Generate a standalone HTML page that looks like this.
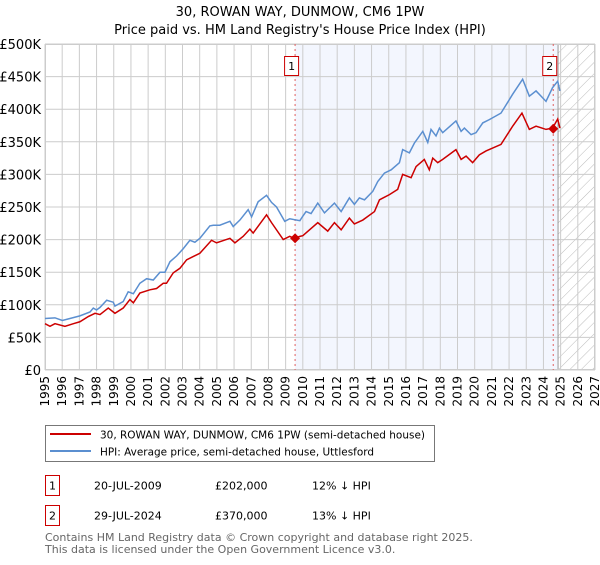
<!DOCTYPE html>
<html><head><meta charset="utf-8"><style>
body{margin:0;background:#fff;width:600px;height:560px;overflow:hidden}
svg text{font-family:"DejaVu Sans","Liberation Sans",sans-serif}
</style></head><body>
<svg id="chart" width="600" height="560" xmlns="http://www.w3.org/2000/svg">
<defs><pattern id="hatch" patternUnits="userSpaceOnUse" width="8" height="8" patternTransform="rotate(45)"><line x1="0" y1="0" x2="0" y2="8" stroke="#bbb" stroke-width="1"/></pattern></defs>
<text x="300" y="16" text-anchor="middle" font-size="13">30, ROWAN WAY, DUNMOW, CM6 1PW</text>
<text x="300" y="34" text-anchor="middle" font-size="13">Price paid vs. HM Land Registry's House Price Index (HPI)</text>
<g id="plot"></g>
<g>
<rect x="45.5" y="425.5" width="389" height="36" fill="#fff" stroke="#777"/>
<line x1="50" y1="434" x2="91" y2="434" stroke="#cc0000" stroke-width="2"/>
<text x="100" y="438.5" font-size="10.3" textLength="325" lengthAdjust="spacingAndGlyphs">30, ROWAN WAY, DUNMOW, CM6 1PW (semi-detached house)</text>
<line x1="50" y1="451" x2="91" y2="451" stroke="#5b8fd0" stroke-width="2"/>
<text x="100" y="455.5" font-size="10.3" textLength="274" lengthAdjust="spacingAndGlyphs">HPI: Average price, semi-detached house, Uttlesford</text>
</g>
<g>
<rect x="45.5" y="475.5" width="14" height="20" fill="none" stroke="#cc0000"/>
<text x="52.5" y="489.5" text-anchor="middle" font-size="11">1</text>
<text x="94" y="489.5" font-size="11">20-JUL-2009</text>
<text x="215" y="489.5" font-size="11">£202,000</text>
<text x="312" y="489.5" font-size="11">12% ↓ HPI</text>
</g>
<g>
<rect x="45.5" y="505.5" width="14" height="20" fill="none" stroke="#cc0000"/>
<text x="52.5" y="519.5" text-anchor="middle" font-size="11">2</text>
<text x="94" y="519.5" font-size="11">29-JUL-2024</text>
<text x="215" y="519.5" font-size="11">£370,000</text>
<text x="312" y="519.5" font-size="11">13% ↓ HPI</text>
</g>
<text x="45" y="541" font-size="11" fill="#666">Contains HM Land Registry data © Crown copyright and database right 2025.</text>
<text x="45" y="553" font-size="11" fill="#666">This data is licensed under the Open Government Licence v3.0.</text>
</svg>
<script>
const hpiYears=[1995.00,1995.58,1996.01,1996.45,1997.03,1997.62,1997.81,1998.00,1998.20,1998.59,1998.97,1999.07,1999.55,1999.84,2000.14,2000.52,2000.91,2001.30,2001.69,2001.98,2002.27,2002.66,2003.04,2003.43,2003.72,2004.01,2004.59,2004.79,2005.17,2005.76,2005.95,2006.34,2006.82,2007.02,2007.40,2007.89,2008.18,2008.47,2008.95,2009.24,2009.83,2010.00,2010.19,2010.48,2010.87,2011.26,2011.84,2012.23,2012.71,2013.00,2013.29,2013.59,2014.07,2014.36,2014.75,2015.14,2015.62,2015.81,2016.20,2016.49,2016.98,2017.27,2017.46,2017.75,2017.95,2018.14,2018.91,2019.21,2019.40,2019.79,2020.08,2020.47,2020.85,2021.53,2022.21,2022.79,2023.18,2023.57,2023.86,2024.15,2024.53,2024.83,2024.96];
const hpiValues=[79,80,76,79,83,89,95,92,96,107,104,98,105,120,117,133,140,138,150,150,166,175,186,199,196,202,221,222,222,228,220,230,246,235,258,268,257,250,228,232,229,236,243,240,256,241,256,243,264,254,264,261,274,289,302,307,318,338,333,348,366,349,369,359,371,364,382,366,371,361,364,379,384,394,423,446,420,428,420,412,433,443,428];
const ppYears=[1995.00,1995.29,1995.58,1996.16,1996.65,1997.03,1997.52,1997.91,1998.20,1998.68,1999.07,1999.55,1999.94,2000.14,2000.52,2001.10,2001.49,2001.88,2002.07,2002.46,2002.85,2003.24,2003.62,2004.01,2004.69,2004.98,2005.76,2006.05,2006.53,2006.92,2007.11,2007.89,2008.18,2008.86,2009.24,2009.50,2009.83,2010.00,2010.87,2011.45,2011.84,2012.23,2012.71,2013.00,2013.49,2014.17,2014.46,2015.04,2015.52,2015.81,2016.30,2016.59,2017.07,2017.36,2017.56,2017.85,2018.14,2018.91,2019.21,2019.50,2019.88,2020.27,2020.66,2021.53,2022.21,2022.75,2023.18,2023.57,2024.15,2024.53,2024.83,2024.96];
const ppValues=[71,67,71,67,71,74,82,87,85,95,87,95,108,103,118,123,125,133,133,149,156,169,174,179,199,195,202,195,205,216,210,238,226,200,205,202,205,206,226,213,226,215,233,224,230,243,261,269,277,300,295,312,323,307,325,318,323,338,323,328,318,330,336,346,374,394,369,374,369,371,385,371];
const saleYears=[2009.55,2024.57];
const saleValues=[202,370];
const saleLabels=["1","2"];
const yTicks=[0,50,100,150,200,250,300,350,400,450,500];
const yTickLabels=["£0","£50K","£100K","£150K","£200K","£250K","£300K","£350K","£400K","£450K","£500K"];
const xTicks=[1995,1996,1997,1998,1999,2000,2001,2002,2003,2004,2005,2006,2007,2008,2009,2010,2011,2012,2013,2014,2015,2016,2017,2018,2019,2020,2021,2022,2023,2024,2025,2026,2027];

const L=45,R=595,T=44,B=370,X0=1995,X1=2027,Y1=500,dataEnd=2024.85;
const xs=y=>L+(y-X0)/(X1-X0)*(R-L);
const ys=v=>B-v/Y1*(B-T);
const NS="http://www.w3.org/2000/svg";
const g=document.getElementById('plot');
function mk(t,a){const e=document.createElementNS(NS,t);for(const k in a)e.setAttribute(k,a[k]);g.appendChild(e);return e;}
let e;
e=mk('rect',{x:xs(saleYears[0]),y:T,width:xs(dataEnd)-xs(saleYears[0]),height:B-T,fill:'#f3f6fe'});


e=mk('rect',{x:xs(dataEnd),y:T,width:R-xs(dataEnd),height:B-T,fill:'url(#hatch)'});


yTicks.forEach((v,i)=>{
  e=mk('line',{x1:L,x2:R,y1:ys(v),y2:ys(v),stroke:'#ccc','stroke-width':1});
  
  
  e=mk('text',{x:L-4,y:ys(v)+5,'text-anchor':'end','font-size':13});
  e.textContent=yTickLabels[i];
  
  
});
xTicks.forEach(yr=>{
  e=mk('line',{x1:xs(yr),x2:xs(yr),y1:T,y2:B,stroke:'#ccc','stroke-width':1});
  
  
  e=mk('text',{x:0,y:0,'text-anchor':'end','font-size':12,transform:`translate(${xs(yr)+4},${B+6}) rotate(-90)`});
  e.textContent=yr;
  
  
});
e=mk('line',{x1:xs(dataEnd),x2:xs(dataEnd),y1:T,y2:B,stroke:'#999','stroke-width':1});


e=mk('rect',{x:L+0.5,y:T+0.5,width:R-L-1,height:B-T-1,fill:'none',stroke:'#ccc'});


saleYears.forEach((yr,i)=>{
  e=mk('line',{x1:xs(yr),x2:xs(yr),y1:T,y2:B,stroke:'#e06060','stroke-width':1,'stroke-dasharray':'2,3'});
  
  
});
e=mk('polyline',{points:hpiYears.map((y,i)=>xs(y)+','+ys(hpiValues[i])).join(' '),fill:'none',stroke:'#5b8fd0','stroke-width':1.5});


e=mk('polyline',{points:ppYears.map((y,i)=>xs(y)+','+ys(ppValues[i])).join(' '),fill:'none',stroke:'#cc0000','stroke-width':1.5});


saleYears.forEach((yr,i)=>{
  const cx=xs(yr),cy=ys(saleValues[i]);
  e=mk('polygon',{points:`${cx},${cy-5} ${cx+5},${cy} ${cx},${cy+5} ${cx-5},${cy}`,fill:'#cc0000'});
  
  
  e=mk('rect',{x:cx-10.5,y:56.5,width:14,height:19,fill:'#fff',stroke:'#cc0000'});
  
  
  e=mk('text',{x:cx-3.5,y:70,'text-anchor':'middle','font-size':11});
  e.textContent=saleLabels[i];
  
  
});
</script>
</body></html>
